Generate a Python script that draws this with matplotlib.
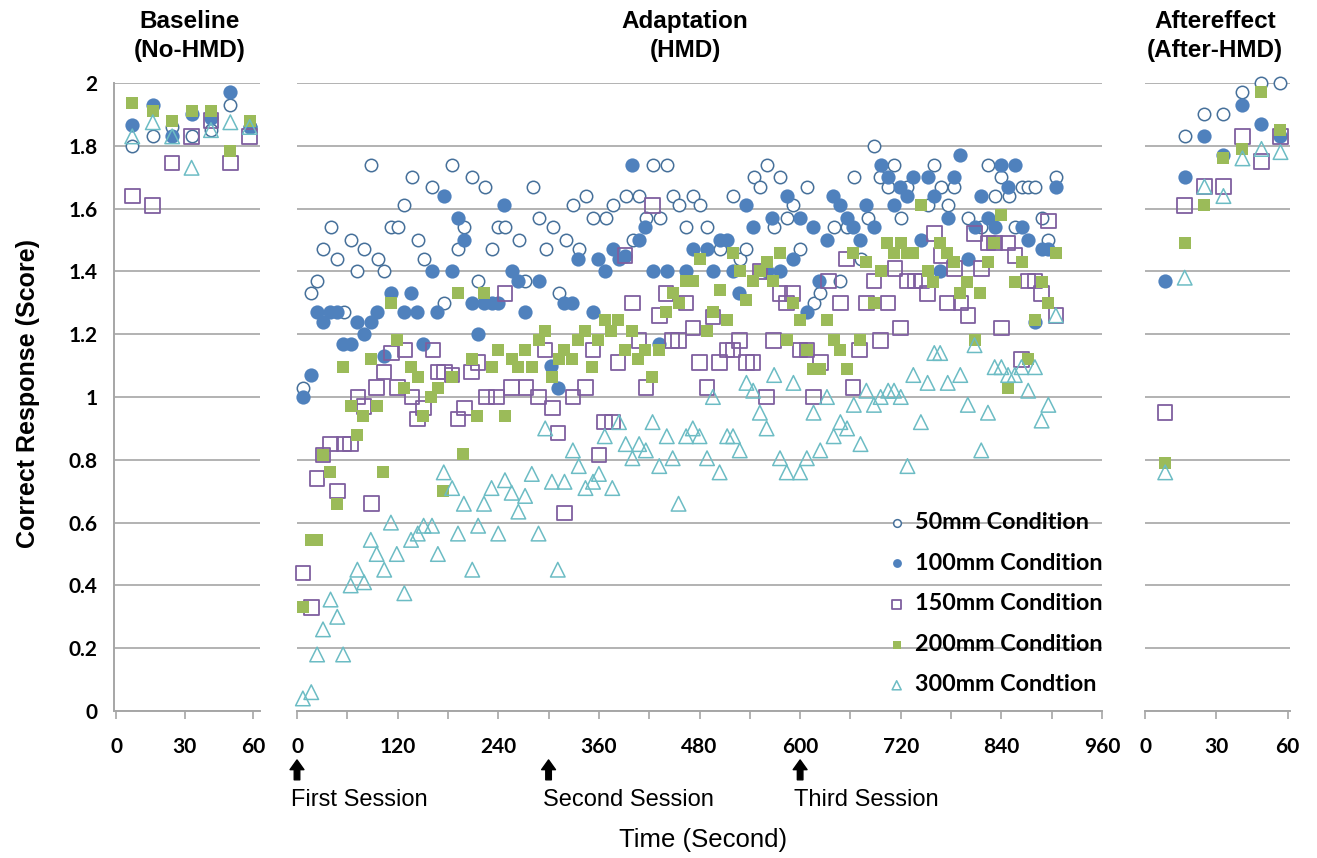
import matplotlib
matplotlib.use("Agg")
import matplotlib.pyplot as plt

# ---- data -------------------------------------------------------------
base_x = [7, 16, 24.5, 33, 41.5, 50, 58.5]
base_50 = [1.80, 1.83, 1.86, 1.83, 1.85, 1.93, 1.86]
base_100 = [1.865, 1.93, 1.83, 1.90, 1.89, 1.97, 1.86]
base_150 = [1.64, 1.61, 1.745, 1.83, 1.88, 1.745, 1.83]
base_200 = [1.935, 1.91, 1.88, 1.91, 1.91, 1.785, 1.88]
base_300 = [1.83, 1.875, 1.83, 1.73, 1.85, 1.875, 1.86]

after_x = [8.5, 16.7, 25, 33, 41, 49, 57]
after_50 = [None, 1.83, 1.90, 1.90, 1.97, 2.00, 2.00]
after_100 = [1.37, 1.70, 1.83, 1.77, 1.93, 1.87, 1.83]
after_150 = [0.95, 1.61, 1.67, 1.67, 1.83, 1.75, 1.83]
after_200 = [0.79, 1.49, 1.61, 1.76, 1.79, 1.97, 1.85]
after_300 = [0.76, 1.38, 1.67, 1.64, 1.76, 1.79, 1.78]

t_50 = [7, 17, 24, 31, 41, 48, 56, 64, 72, 80, 88, 96, 104, 112, 120, 128, 137, 144, 152, 161,
        175, 185, 192, 199, 209, 216, 224, 232, 240, 248, 265, 272, 281, 289, 297, 305, 312, 321,
        329, 336, 345, 353, 368, 377, 392, 401, 408, 416, 424, 433, 441, 448, 456, 464, 472, 480,
        489, 504, 520, 528, 536, 545, 552, 560, 569, 576, 584, 592, 600, 608, 616, 624, 640, 648,
        656, 664, 672, 681, 688, 695, 705, 712, 720, 728, 752, 760, 768, 776, 784, 800, 816, 824,
        832, 840, 849, 856, 864, 872, 880, 888, 896, 905]
v_50 = [1.03, 1.33, 1.37, 1.47, 1.54, 1.44, 1.27, 1.50, 1.40, 1.47, 1.74, 1.44, 1.40, 1.54, 1.54,
        1.61, 1.70, 1.50, 1.44, 1.67, 1.30, 1.74, 1.47, 1.54, 1.70, 1.37, 1.67, 1.47, 1.54, 1.54,
        1.50, 1.37, 1.67, 1.57, 1.47, 1.54, 1.33, 1.50, 1.61, 1.47, 1.64, 1.57, 1.57, 1.61, 1.64,
        1.50, 1.64, 1.57, 1.74, 1.57, 1.74, 1.64, 1.61, 1.54, 1.64, 1.61, 1.54, 1.47, 1.64, 1.44,
        1.47, 1.70, 1.67, 1.74, 1.54, 1.70, 1.57, 1.61, 1.47, 1.67, 1.30, 1.33, 1.54, 1.37, 1.54,
        1.70, 1.44, 1.57, 1.80, 1.70, 1.67, 1.74, 1.57, 1.67, 1.61, 1.74, 1.67, 1.61, 1.67, 1.57,
        1.54, 1.74, 1.64, 1.70, 1.64, 1.54, 1.67, 1.67, 1.67, 1.57, 1.50, 1.70]

t_100 = [7, 17, 24, 31, 39, 48, 55, 64, 72, 80, 88, 95, 104, 112, 128, 136, 143, 150, 161, 167,
         175, 185, 192, 199, 209, 216, 223, 232, 240, 247, 256, 264, 272, 288, 303, 311, 319, 328,
         335, 353, 359, 367, 377, 384, 391, 400, 408, 415, 424, 432, 441, 464, 472, 489, 496, 504,
         513, 520, 527, 536, 544, 560, 567, 576, 584, 591, 600, 608, 615, 623, 632, 639, 648, 656,
         663, 671, 679, 688, 696, 705, 712, 719, 728, 735, 744, 752, 760, 767, 776, 784, 791, 800,
         808, 816, 824, 832, 840, 848, 856, 864, 872, 880, 888, 896, 905]
v_100 = [1.00, 1.07, 1.27, 1.24, 1.27, 1.27, 1.17, 1.17, 1.24, 1.20, 1.24, 1.27, 1.13, 1.33, 1.27,
         1.33, 1.27, 1.17, 1.40, 1.27, 1.64, 1.40, 1.57, 1.50, 1.30, 1.20, 1.30, 1.30, 1.30, 1.61,
         1.40, 1.37, 1.27, 1.37, 1.10, 1.03, 1.30, 1.30, 1.44, 1.27, 1.44, 1.40, 1.47, 1.44, 1.45,
         1.74, 1.50, 1.54, 1.40, 1.17, 1.40, 1.40, 1.47, 1.47, 1.40, 1.50, 1.50, 1.40, 1.33, 1.61,
         1.54, 1.40, 1.57, 1.40, 1.64, 1.44, 1.57, 1.27, 1.54, 1.37, 1.50, 1.64, 1.61, 1.57, 1.54,
         1.50, 1.61, 1.54, 1.74, 1.70, 1.61, 1.67, 1.64, 1.70, 1.50, 1.70, 1.64, 1.40, 1.57, 1.70,
         1.77, 1.44, 1.54, 1.64, 1.57, 1.54, 1.74, 1.67, 1.74, 1.54, 1.50, 1.24, 1.47, 1.47, 1.67]

t_150 = [7, 17, 24, 31, 40, 48, 56, 64, 73, 80, 89, 95, 104, 113, 120, 129, 137, 144, 151, 162,
         168, 176, 185, 192, 200, 208, 216, 226, 238, 248, 256, 273, 288, 296, 305, 311, 319, 329,
         344, 353, 360, 367, 376, 383, 391, 400, 408, 416, 424, 432, 440, 447, 455, 464, 472, 480,
         489, 496, 504, 513, 520, 528, 536, 544, 552, 560, 568, 576, 584, 591, 600, 608, 616, 624,
         634, 648, 655, 663, 671, 679, 688, 696, 705, 713, 720, 728, 737, 745, 752, 760, 768, 776,
         784, 792, 800, 808, 816, 824, 832, 840, 848, 856, 864, 872, 880, 888, 896, 905]
v_150 = [0.44, 0.33, 0.74, 0.815, 0.85, 0.70, 0.85, 0.85, 1.00, 0.97, 0.66, 1.03, 1.08, 1.14, 1.03,
         1.15, 1.00, 0.93, 0.965, 1.15, 1.08, 1.08, 1.07, 0.93, 0.965, 1.08, 1.11, 1.00, 1.00, 1.33,
         1.03, 1.03, 1.00, 1.15, 0.965, 0.885, 0.63, 1.00, 1.03, 1.15, 0.815, 0.92, 0.92, 1.11, 1.45,
         1.30, 1.18, 1.03, 1.61, 1.26, 1.33, 1.18, 1.18, 1.30, 1.22, 1.11, 1.03, 1.255, 1.11, 1.15,
         1.15, 1.18, 1.11, 1.11, 1.40, 1.00, 1.18, 1.33, 1.30, 1.33, 1.15, 1.15, 1.00, 1.11, 1.37,
         1.30, 1.44, 1.03, 1.15, 1.30, 1.37, 1.18, 1.30, 1.41, 1.22, 1.37, 1.37, 1.37, 1.33, 1.52,
         1.45, 1.30, 1.41, 1.30, 1.26, 1.52, 1.41, 1.49, 1.49, 1.22, 1.49, 1.45, 1.12, 1.37, 1.37,
         1.33, 1.56, 1.26]

t_200 = [7, 17, 24, 31, 39, 48, 55, 64, 71, 79, 88, 95, 103, 112, 119, 128, 136, 144, 150, 160,
         168, 174, 185, 192, 198, 209, 215, 223, 232, 240, 248, 256, 264, 272, 280, 288, 296, 304,
         312, 319, 328, 335, 343, 352, 359, 367, 375, 383, 391, 399, 407, 415, 423, 432, 440, 448,
         456, 464, 472, 480, 489, 496, 504, 513, 520, 528, 536, 544, 552, 560, 568, 576, 584, 591,
         600, 608, 615, 624, 632, 640, 648, 656, 663, 671, 679, 688, 696, 704, 712, 720, 727, 735,
         744, 752, 759, 767, 775, 783, 791, 799, 808, 815, 824, 831, 840, 848, 856, 864, 872, 880,
         888, 896, 905]
v_200 = [0.33, 0.545, 0.545, 0.815, 0.76, 0.66, 1.095, 0.97, 0.88, 0.94, 1.12, 0.97, 0.76, 1.30,
         1.18, 1.03, 1.095, 1.065, 0.94, 1.00, 1.03, 0.70, 1.065, 1.33, 0.82, 1.12, 0.94, 1.33,
         1.095, 1.15, 0.94, 1.12, 1.095, 1.15, 1.095, 1.18, 1.21, 1.065, 1.12, 1.15, 1.12, 1.18,
         1.21, 1.095, 1.18, 1.245, 1.21, 1.245, 1.15, 1.21, 1.12, 1.15, 1.065, 1.15, 1.27, 1.33,
         1.30, 1.37, 1.37, 1.44, 1.21, 1.27, 1.34, 1.245, 1.46, 1.40, 1.31, 1.37, 1.40, 1.43, 1.37,
         1.46, 1.18, 1.30, 1.245, 1.15, 1.09, 1.09, 1.245, 1.18, 1.15, 1.09, 1.46, 1.18, 1.43, 1.30,
         1.40, 1.49, 1.46, 1.49, 1.46, 1.46, 1.61, 1.40, 1.365, 1.49, 1.46, 1.43, 1.33, 1.365, 1.18,
         1.33, 1.43, 1.49, 1.58, 1.03, 1.365, 1.43, 1.12, 1.245, 1.365, 1.30, 1.46]

t_300 = [7, 17, 24, 31, 40, 48, 55, 64, 72, 80, 88, 95, 104, 112, 119, 128, 136, 144, 151, 161,
         168, 175, 185, 192, 199, 209, 216, 223, 232, 240, 248, 256, 264, 272, 280, 288, 296, 304,
         311, 319, 329, 336, 344, 353, 360, 367, 376, 384, 392, 400, 408, 416, 424, 432, 441, 448,
         455, 464, 472, 480, 489, 496, 504, 513, 520, 528, 536, 544, 552, 560, 569, 576, 584, 592,
         600, 608, 616, 624, 632, 640, 648, 656, 664, 672, 679, 688, 696, 705, 712, 720, 728, 735,
         744, 752, 760, 767, 776, 791, 800, 808, 816, 824, 832, 840, 848, 856, 864, 872, 880, 888,
         896, 905]
v_300 = [0.04, 0.06, 0.18, 0.26, 0.355, 0.30, 0.18, 0.40, 0.45, 0.41, 0.545, 0.50, 0.45, 0.60,
         0.50, 0.375, 0.545, 0.565, 0.59, 0.59, 0.50, 0.76, 0.71, 0.565, 0.66, 0.45, 0.59, 0.66,
         0.71, 0.565, 0.735, 0.695, 0.635, 0.685, 0.755, 0.565, 0.90, 0.73, 0.45, 0.73, 0.83, 0.78,
         0.71, 0.73, 0.755, 0.875, 0.71, 0.92, 0.85, 0.805, 0.85, 0.83, 0.92, 0.78, 0.875, 0.805,
         0.66, 0.875, 0.90, 0.875, 0.805, 1.00, 0.76, 0.875, 0.875, 0.83, 1.045, 1.02, 0.95, 0.90,
         1.07, 0.805, 0.76, 1.045, 0.76, 0.805, 0.95, 0.83, 1.00, 0.875, 0.92, 0.90, 0.975, 0.85,
         1.02, 0.975, 1.00, 1.02, 1.02, 1.00, 0.78, 1.07, 0.92, 1.045, 1.14, 1.14, 1.045, 1.07,
         0.975, 1.165, 0.83, 0.95, 1.095, 1.095, 1.07, 1.07, 1.095, 1.02, 1.095, 0.925, 0.975, 1.26]

labels = ["50mm Condition", "100mm Condition", "150mm Condition",
          "200mm Condition", "300mm Condtion"]
sessions = [0, 300, 600]
session_names = ["First Session", "Second Session", "Third Session"]

# ---- styles -----------------------------------------------------------
styles = [
    dict(marker="o", s=80, facecolors="white", edgecolors="#46709a", linewidths=1.1),
    dict(marker="o", s=105, color="#4f81bd", linewidths=0),
    dict(marker="s", s=110, facecolors="none", edgecolors="#7f5f9f", linewidths=1.3),
    dict(marker="s", s=75, color="#9bbb59", linewidths=0),
    dict(marker="^", s=110, facecolors="none", edgecolors="#6cbcc4", linewidths=1.1),
]
grid_col = "#a6a6a6"
tick_font = dict(family="Lato", weight="bold", size=15)

W, H = 1317, 858
fig = plt.figure(figsize=(W / 100, H / 100), dpi=100)


def px_axes(x0, x1):
    return fig.add_axes([x0 / W, (H - 711) / H, (x1 - x0) / W, (711 - 83) / H])


ax_l = px_axes(114, 260)
ax_m = px_axes(297, 1102)
ax_r = px_axes(1145, 1290)

for ax in (ax_l, ax_m, ax_r):
    ax.set_ylim(0, 2)
    ax.set_yticks([i / 5 for i in range(11)])
    ax.grid(axis="y", color=grid_col, linewidth=1.2)
    ax.set_axisbelow(True)
    for sp in ("top", "right", "left"):
        ax.spines[sp].set_visible(False)
    ax.spines["bottom"].set_color(grid_col)
    ax.spines["bottom"].set_linewidth(1.4)
    ax.tick_params(axis="x", direction="out", length=6, color=grid_col, width=1.2, pad=13)
    ax.tick_params(axis="y", length=0)
    ax.set_yticklabels([])

ax_l.spines["left"].set_visible(True)
ax_l.spines["left"].set_color(grid_col)
ax_l.spines["left"].set_linewidth(1.4)
ax_l.set_yticklabels(["0", "0.2", "0.4", "0.6", "0.8", "1", "1.2", "1.4", "1.6", "1.8", "2"],
                     **tick_font)
ax_l.tick_params(axis="y", pad=12)

ax_l.set_xlim(-1, 63)
ax_l.set_xticks([0, 30, 60])
ax_r.set_xlim(0, 61)
ax_r.set_xticks([0, 30, 60])
ax_m.set_xlim(0, 960)
ax_m.set_xticks(range(0, 961, 60))
for ax in (ax_l, ax_r):
    ax.set_xticklabels(["0", "30", "60"], **tick_font)
ax_m.set_xticklabels([str(v) if v % 120 == 0 else "" for v in range(0, 961, 60)], **tick_font)

# baseline / aftereffect
for ys, st in zip([base_50, base_100, base_150, base_200, base_300], styles):
    ax_l.scatter(base_x, ys, clip_on=False, **st)
for ys, st in zip([after_50, after_100, after_150, after_200, after_300], styles):
    xs = [x for x, y in zip(after_x, ys) if y is not None]
    yy = [y for y in ys if y is not None]
    ax_r.scatter(xs, yy, clip_on=False, **st)

# adaptation
handles = []
for tt, vv, st, lab in zip([t_50, t_100, t_150, t_200, t_300],
                           [v_50, v_100, v_150, v_200, v_300], styles, labels):
    handles.append(ax_m.scatter(tt, vv, clip_on=False, label=lab, **st))

ax_m.legend(handles=handles, labels=labels, loc="upper left",
            bbox_to_anchor=((864 - 297) / 805, (711 - 491) / 628),
            frameon=False, markerscale=0.62, handletextpad=0.3, labelspacing=0.84,
            prop=dict(family="Lato", weight="bold", size=16.8), handlelength=1.0)

# session arrows
for s, name in zip(sessions, session_names):
    ax_m.annotate("", xy=(s, -0.147), xytext=(s, -0.228), annotation_clip=False,
                  arrowprops=dict(arrowstyle="simple,head_width=1.0,head_length=0.7,tail_width=0.4",
                                  color="black"))
    ax_m.text(s - 7, -0.285, name, ha="left", va="center", fontsize=17,
              family="Liberation Sans", clip_on=False)

ax_m.text(484, -0.41, "Time (Second)", ha="center", va="center", fontsize=18.5,
          family="Liberation Sans", clip_on=False)

fig.text(28 / W, 1 - 394 / H, "Correct Response (Score)", rotation=90, ha="center",
         va="center", fontsize=18, family="Liberation Sans", weight="bold")

titles = [(190, "Baseline\n(No-HMD)"), (685, "Adaptation\n(HMD)"), (1215, "Aftereffect\n(After-HMD)")]
for x, t in titles:
    fig.text(x / W, 1 - 36 / H, t, ha="center", va="center", fontsize=17.5,
             family="Liberation Sans", weight="bold", linespacing=1.32)

fig.savefig("out.png", dpi=100)
